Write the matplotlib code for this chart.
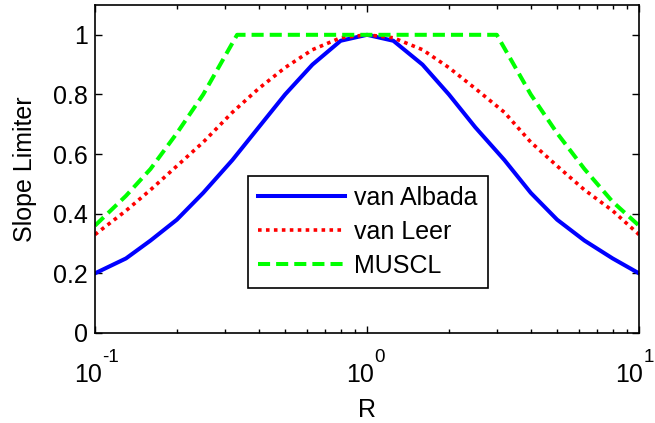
import numpy as np
import matplotlib.pyplot as plt
from matplotlib.transforms import offset_copy

# values
R = [0.1, 0.13, 0.16, 0.2, 0.25, 0.32, 0.4, 0.5, 0.63, 0.8, 1.0,
     1.25, 1.6, 2.0, 2.5, 3.2, 4.0, 5.0, 6.3, 8.0, 10.0]
van_albada = [0.20, 0.25, 0.31, 0.38, 0.47, 0.58, 0.69, 0.80, 0.90, 0.98, 1.0,
              0.98, 0.90, 0.80, 0.69, 0.58, 0.47, 0.38, 0.31, 0.25, 0.20]
van_leer = [0.33, 0.41, 0.48, 0.56, 0.64, 0.74, 0.82, 0.89, 0.95, 0.99, 1.0,
            0.99, 0.95, 0.89, 0.82, 0.74, 0.64, 0.56, 0.48, 0.41, 0.33]
R_muscl = [0.1, 0.13, 0.16, 0.2, 0.25, 0.333, 1.0, 3.0, 4.0, 5.0, 6.3, 8.0, 10.0]
muscl = [0.36, 0.46, 0.55, 0.67, 0.80, 1.0, 1.0, 1.0, 0.80, 0.67, 0.55, 0.44, 0.36]
xtick_vals = [0.1, 1, 10]
xtick_exps = ['-1', '0', '1']
ytick_vals = [0, 0.2, 0.4, 0.6, 0.8, 1]
ytick_labels = ['0', '0.2', '0.4', '0.6', '0.8', '1']

plt.rcParams['font.family'] = ['Liberation Sans', 'DejaVu Sans']

fig = plt.figure(figsize=(6.55, 4.23), dpi=100)
ax = fig.add_axes([0.145, 0.2128, 0.8306, 0.7754])

ax.plot(R, van_albada, color='#0000ff', lw=2.9, label='van Albada')
ax.plot(R, van_leer, color='#ff0000', lw=2.6, ls=(0, (1, 1.2)), label='van Leer')
ax.plot(R_muscl, muscl, color='#00ff00', lw=2.9, ls=(0, (3, 1.5)), label='MUSCL')

ax.set_xscale('log')
ax.set_xlim(0.1, 10)
ax.set_ylim(0, 1.1)
ax.set_xticks(xtick_vals)
ax.set_xticklabels([])
ax.set_yticks(ytick_vals)
ax.set_yticklabels(ytick_labels)
ax.tick_params(which='both', direction='in', top=True, right=True, labelsize=18, width=1)
ax.tick_params(which='major', length=5)
ax.tick_params(axis='y', pad=5)
ax.tick_params(which='minor', length=3)
for s in ax.spines.values():
    s.set_linewidth(1.2)

# MATLAB style 10^n tick labels with raised exponent
trans = ax.get_xaxis_transform()
for i, (xv, ex) in enumerate(zip(xtick_vals, xtick_exps)):
    dx = 5 if i < len(xtick_vals) - 1 else 3  # last one pulled in so it stays on the canvas
    t1 = offset_copy(trans, fig=fig, x=dx, y=-35.3, units='points')
    ax.text(xv, 0, '10', transform=t1, ha='right', va='baseline', fontsize=18, clip_on=False)
    t2 = offset_copy(trans, fig=fig, x=dx + 0.5, y=-20.9, units='points')
    ax.text(xv, 0, ex, transform=t2, ha='left', va='baseline', fontsize=13.5, clip_on=False)

ax.set_xlabel('R', fontsize=18)
ax.xaxis.set_label_coords(0.5, -0.198)
ax.set_ylabel('Slope Limiter', fontsize=18)
ax.yaxis.set_label_coords(-0.107, 0.5)

leg = ax.legend(loc='lower left', bbox_to_anchor=(0.281, 0.137), fontsize=18,
                fancybox=False, edgecolor='black', framealpha=1,
                handlelength=3.5, handletextpad=0.35, borderpad=0.4,
                labelspacing=0.4, borderaxespad=0)
leg.get_frame().set_linewidth(1.2)

plt.savefig('out.png', dpi=100)
